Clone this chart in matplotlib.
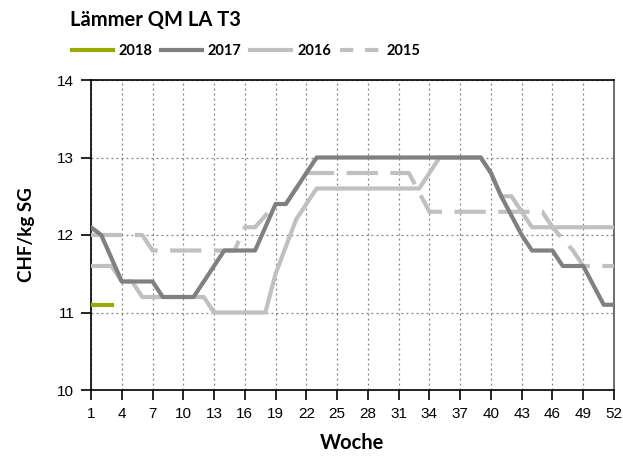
import matplotlib
matplotlib.use("Agg")
import matplotlib.pyplot as plt
from matplotlib.lines import Line2D

weeks = list(range(1, 53))

y2018_weeks = [1, 2, 3]
y2018 = [11.1, 11.1, 11.1]

y2017 = [12.1, 12.0, 11.7, 11.4, 11.4, 11.4, 11.4, 11.2, 11.2, 11.2,
         11.2, 11.4, 11.6, 11.8, 11.8, 11.8, 11.8, 12.1, 12.4, 12.4,
         12.6, 12.8] + [13.0] * 17 + [12.8, 12.5, 12.25, 12.0, 11.8, 11.8,
         11.8, 11.6, 11.6, 11.6, 11.35, 11.1, 11.1]

y2016 = [11.6, 11.6, 11.6, 11.4, 11.4, 11.2] + [11.2] * 6 + [11.0] * 6 + \
        [11.5, 11.85, 12.2, 12.4, 12.6] + [12.6] * 10 + [12.8, 13.0] + \
        [13.0] * 4 + [12.8, 12.5, 12.5, 12.3] + [12.1] * 9

y2015 = [12.0] * 6 + [11.8] * 9 + [12.1, 12.1, 12.25, 12.4, 12.4, 12.6,
         12.8] + [12.8] * 10 + [12.55, 12.3] + [12.3] * 11 + \
        [12.1, 11.95, 11.8, 11.6, 11.6, 11.6, 11.6]

series_labels = ["2018", "2017", "2016", "2015"]
xticks = list(range(1, 53, 3))
yticks = [10, 11, 12, 13, 14]

title = "Lämmer QM LA T3"
xlabel = "Woche"
ylabel = "CHF/kg SG"

fig = plt.figure(figsize=(6.23, 4.59), dpi=100)
ax = fig.add_axes([91/623, 1-390/459, (614-91)/623, (390-80)/459])

c_green = "#9aab00"
c_dark = "#808080"
c_light = "#c0c0c0"
lw = 3.0

l15, = ax.plot(weeks, y2015, color=c_light, lw=lw, dashes=(7.5, 3),
               dash_capstyle="butt", zorder=3)
l16, = ax.plot(weeks, y2016, color=c_light, lw=lw, zorder=4)
l17, = ax.plot(weeks, y2017, color=c_dark, lw=lw, zorder=5)
l18, = ax.plot(y2018_weeks, y2018, color=c_green, lw=lw, zorder=6)

ax.set_xlim(1, 52)
ax.set_ylim(10, 14)
ax.set_xticks(xticks)
ax.set_yticks(yticks)

tick_font = dict(family=["Liberation Sans Narrow", "Liberation Sans", "DejaVu Sans"], size=11)
ax.set_xticklabels([str(t) for t in xticks], fontdict=tick_font)
ax.set_yticklabels([str(t) for t in yticks], fontdict=tick_font)
ax.tick_params(axis="both", direction="out", length=7, width=1.2, color="black", pad=5)

ax.grid(True, color="#808080", linestyle=(0, (1.5, 2.5)), linewidth=0.9, zorder=1)
ax.set_axisbelow(True)
for s in ax.spines.values():
    s.set_color("black")
    s.set_linewidth(1.2)
ax.spines["right"].set_color("#555555")

lab_font = ["Lato", "DejaVu Sans"]
ax.set_xlabel(xlabel, fontsize=14.5, fontweight="bold", family=lab_font, labelpad=9)
ax.set_ylabel(ylabel, fontsize=13.5, fontweight="bold", family=lab_font, labelpad=16)

fig.text(70/623, 1-20/459, title, fontsize=14.5, fontweight="bold", family=lab_font,
         va="center", ha="left")

h15 = Line2D([], [], color=c_light, lw=lw, dashes=(3.2, 2.8), dash_capstyle="butt")
leg = fig.legend([l18, l17, l16, h15], series_labels,
                 loc="center left", bbox_to_anchor=(72/623, 1-51/459), ncol=4,
                 frameon=False, borderpad=0, borderaxespad=0,
                 handlelength=2.8, handletextpad=0.4, columnspacing=0.6,
                 prop=dict(family=lab_font, size=10.5, weight="bold"))

fig.savefig("out.png", dpi=100)
